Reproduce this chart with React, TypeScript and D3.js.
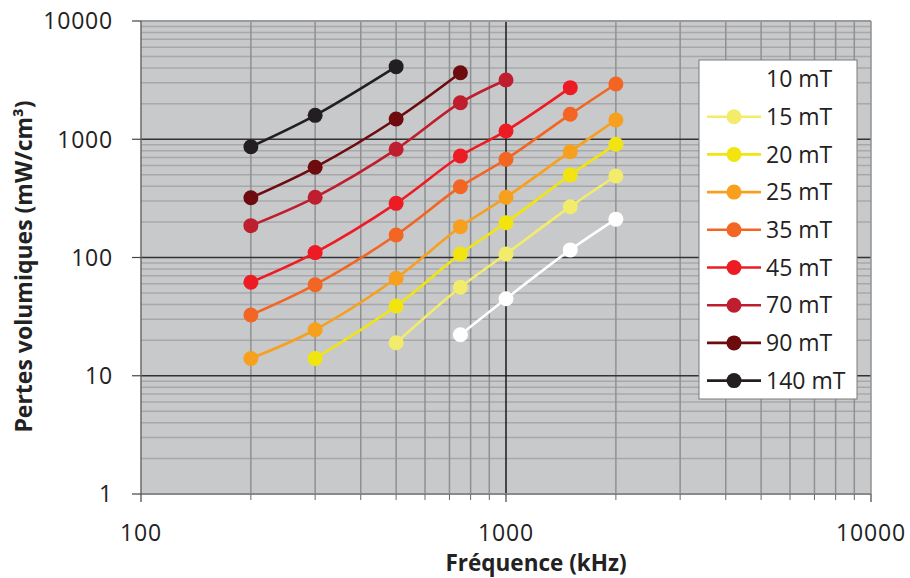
import React from "react";
import * as d3 from "d3";

const seriesNames = ["10 mT", "15 mT", "20 mT", "25 mT", "35 mT", "45 mT", "70 mT", "90 mT", "140 mT"];
const seriesColors = ["#ffffff", "#f3ec6b", "#f2e50f", "#f7a01d", "#f26522", "#ed1c24", "#be1e2d", "#6d0b0f", "#231f20"];

const f10 = [750, 1000, 1500, 2000];
const v10 = [22.2, 44.8, 116, 211];
const f15 = [500, 750, 1000, 1500, 2000];
const v15 = [19, 56, 107, 269, 489];
const f20 = [300, 500, 750, 1000, 1500, 2000];
const v20 = [14, 38.9, 107, 197, 499, 906];
const f25 = [200, 300, 500, 750, 1000, 1500, 2000];
const v25 = [14, 24.5, 66.7, 182, 323, 785, 1455];
const f35 = [200, 300, 500, 750, 1000, 1500, 2000];
const v35 = [32.6, 58.9, 155, 397, 677, 1625, 2934];
const f45 = [200, 300, 500, 750, 1000, 1500];
const v45 = [61.7, 110, 287, 722, 1175, 2730];
const f70 = [200, 300, 500, 750, 1000];
const v70 = [186, 323, 822, 2037, 3170];
const f90 = [200, 300, 500, 750];
const v90 = [320, 579, 1483, 3655];
const f140 = [200, 300, 500];
const v140 = [865, 1593, 4110];

const seriesFreqs = [f10, f15, f20, f25, f35, f45, f70, f90, f140];
const seriesValues = [v10, v15, v20, v25, v35, v45, v70, v90, v140];

const xTicks = [100, 1000, 10000];
const yTicks = [1, 10, 100, 1000, 10000];

const FONT = "'Open Sans', 'Liberation Sans', sans-serif";

export default function App() {
  const W = 910, H = 578;
  const left = 141, right = 871, top = 21, bottom = 494;
  const x = d3.scaleLog().domain([100, 10000]).range([left, right]);
  const y = d3.scaleLog().domain([1, 10000]).range([bottom, top]);

  const minorX: number[] = [];
  const minorY: number[] = [];
  for (let dec = 100; dec < 10000; dec *= 10) for (let k = 2; k <= 9; k++) minorX.push(dec * k);
  for (let dec = 1; dec < 10000; dec *= 10) for (let k = 2; k <= 9; k++) minorY.push(dec * k);

  const line = d3
    .line<[number, number]>()
    .x((d) => x(d[0]))
    .y((d) => y(d[1]))
    .curve(d3.curveCatmullRom.alpha(0.5));

  const legX = 699, legY = 60, legW = 158, legH = 339;
  const rowY0 = 79, rowStep = 37.7;

  return (
    <svg width={W} height={H} style={{ position: "absolute", left: 0, top: 0 }} fontFamily={FONT}>
      <rect x={0} y={0} width={W} height={H} fill="#ffffff" />
      <rect x={left} y={top} width={right - left} height={bottom - top} fill="#c8c9cb" />
      {minorY.map((v) => (
        <line key={"my" + v} x1={left} x2={right} y1={y(v)} y2={y(v)} stroke="#a7a8aa" strokeWidth={1.5} />
      ))}
      {minorX.map((v) => (
        <line key={"mx" + v} x1={x(v)} x2={x(v)} y1={top} y2={bottom} stroke="#8f9092" strokeWidth={1.5} />
      ))}
      {yTicks.slice(1, -1).map((v) => (
        <line key={"gy" + v} x1={left} x2={right} y1={y(v)} y2={y(v)} stroke="#333" strokeWidth={1.3} />
      ))}
      <line x1={x(1000)} x2={x(1000)} y1={top} y2={bottom} stroke="#1a1a1a" strokeWidth={1.5} />
      <line x1={left} x2={right} y1={top} y2={top} stroke="#9a9a9a" strokeWidth={2} />
      <line x1={right} x2={right} y1={top} y2={bottom} stroke="#8f9092" strokeWidth={1.5} />
      <line x1={left} x2={right} y1={bottom} y2={bottom} stroke="#8a8a8a" strokeWidth={2} />
      <line x1={left} x2={left} y1={top} y2={bottom} stroke="#6a6a6a" strokeWidth={1.5} />
      {minorX.map((v) => (
        <line key={"tx" + v} x1={x(v)} x2={x(v)} y1={bottom} y2={bottom + 6} stroke="#6a6a6a" strokeWidth={1} />
      ))}
      {xTicks.map((v) => (
        <g key={"xt" + v}>
          <line x1={x(v)} x2={x(v)} y1={bottom} y2={bottom + 8} stroke="#444" strokeWidth={1.2} />
          <text x={x(v)} y={541} textAnchor="middle" fontSize={23} letterSpacing={0.8} fill="#222">
            {v}
          </text>
        </g>
      ))}
      {yTicks.map((v) => (
        <g key={"yt" + v}>
          <line x1={left - 9} x2={left} y1={y(v)} y2={y(v)} stroke="#444" strokeWidth={1.2} />
          <text x={113} y={y(v)} dy="0.36em" textAnchor="end" fontSize={23} letterSpacing={0.8} fill="#222">
            {v}
          </text>
        </g>
      ))}
      {seriesNames.map((name, i) => {
        const pts: [number, number][] = seriesFreqs[i].map((f, j) => [f, seriesValues[i][j]]);
        return (
          <g key={name}>
            <path d={line(pts) || ""} fill="none" stroke={seriesColors[i]} strokeWidth={2.6} />
            {pts.map((p, j) => (
              <circle key={j} cx={x(p[0])} cy={y(p[1])} r={7.5} fill={seriesColors[i]} />
            ))}
          </g>
        );
      })}
      <text x={536} y={571} textAnchor="middle" fontSize={22.5} fontWeight="bold" fill="#222">
        Fréquence (kHz)
      </text>
      <text
        transform={`translate(32, 266.5) rotate(-90)`}
        textAnchor="middle"
        fontSize={23}
        fontWeight="bold"
        fill="#222"
      >
        Pertes volumiques (mW/cm³)
      </text>
      <rect x={legX} y={legY} width={legW} height={legH} fill="#ffffff" stroke="#7a7a7a" strokeWidth={1} />
      {seriesNames.map((name, i) => {
        const cy = rowY0 + i * rowStep;
        return (
          <g key={"leg" + name}>
            <line x1={707} x2={761} y1={cy} y2={cy} stroke={seriesColors[i]} strokeWidth={2.6} />
            <circle cx={734} cy={cy} r={7.5} fill={seriesColors[i]} />
            <text x={766} y={cy} dy="0.36em" fontSize={23} fill="#222">
              {name}
            </text>
          </g>
        );
      })}
    </svg>
  );
}
